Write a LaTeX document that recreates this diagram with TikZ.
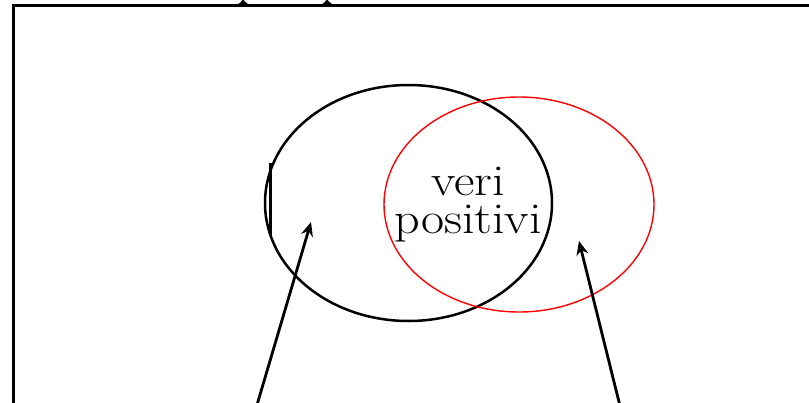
\documentclass[tikz,border=0pt]{standalone}
\usepackage{fontspec}
\usetikzlibrary{shapes.geometric,arrows.meta}
\newcommand{\wideword}[1]{\scalebox{1.14}[1]{#1}}
\begin{document}
\begin{tikzpicture}[x=1pt,y=-1pt,
  setbox/.style={draw=black,line width=2.5pt,ellipse,inner sep=0pt,minimum width=287pt,minimum height=236pt},
  redbox/.style={draw=red,line width=1.4pt,ellipse,inner sep=0pt,minimum width=270pt,minimum height=215pt},
  pointer/.style={line width=2.8pt,-{Stealth[length=14pt,width=12pt]}},
  lbl/.style={font=\fontsize{44}{38}\selectfont,align=center,inner sep=0pt}]
\useasboundingbox (0,0) rectangle (809,402);
\draw[line width=3pt] (13.5,420) -- (13.5,5.5) -- (830,5.5);
\fill (236,5) .. controls (241,3.5) and (242,0) .. (243,-1) .. controls (244,0) and (245,3.5) .. (251,5) -- cycle;
\fill (320,5) .. controls (325,3.5) and (326,0) .. (327,-1) .. controls (328,0) and (329,3.5) .. (335,5) -- cycle;
\node[setbox] (A) at (408.5,203) {};
\node[redbox] (B) at (519,204.5) {};
\node[lbl] (T) at (468,205) {\wideword{veri}\\\wideword{positivi}};
\coordinate (c1) at (270,163);
\coordinate (c2) at (270,235);
\draw[line width=3pt] (c1) -- (c2);
\coordinate (s1) at (255.5,410);
\coordinate (e1) at (311,222);
\coordinate (s2) at (621,410);
\coordinate (e2) at (579,241);
\draw[pointer] (s1) -- (e1);
\draw[pointer] (s2) -- (e2);
\end{tikzpicture}
\end{document}
